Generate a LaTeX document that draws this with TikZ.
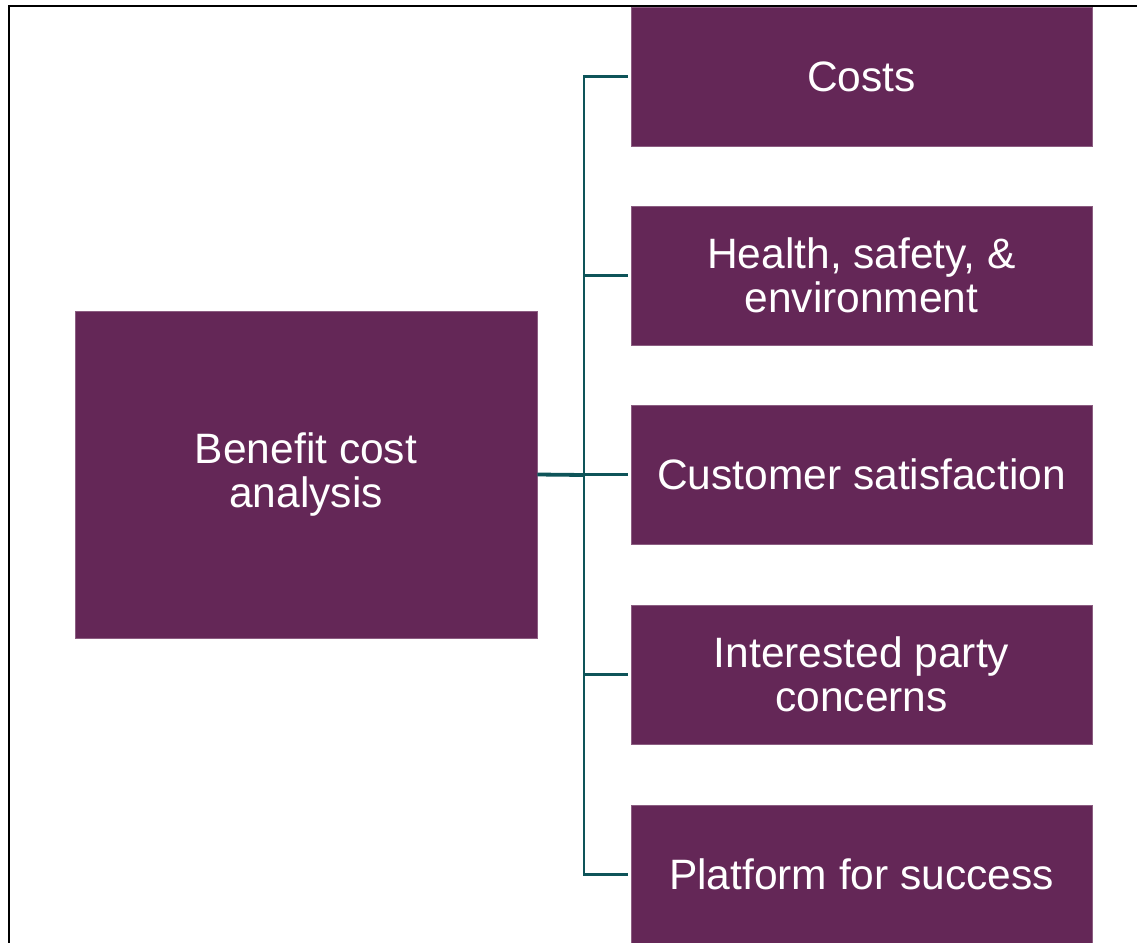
\documentclass[tikz,border=0pt]{standalone}
\usepackage{fontspec}
\setmainfont{Liberation Sans}
\definecolor{boxpurple}{HTML}{642757}
\definecolor{lineteal}{HTML}{0E5459}
\begin{document}
\begin{tikzpicture}[x=1pt,y=-1pt,
  box/.style={fill=boxpurple, draw=boxpurple!75!white, line width=0.6pt, text=white, align=center,
    font=\fontsize{42.5}{44}\selectfont, inner sep=0pt},
  leftbox/.style={box, minimum width=462pt, minimum height=327pt},
  rightbox/.style={box, minimum width=461pt, minimum height=139pt},
  conn/.style={draw=lineteal, line width=2.8pt},
  stub/.style={draw=lineteal, line width=3.8pt}]
\useasboundingbox (0,0) rectangle (1137,942);
\draw[black, line width=2.5pt] (9,943) -- (9,6) -- (1137,6);

\node[leftbox] (bca) at (306,474.5) {Benefit cost\\analysis};
\node[rightbox] (c1) at (861.5,76.5) {Costs};
\node[rightbox] (c2) at (861.5,275.5) {Health, safety, \&\\environment};
\node[rightbox] (c3) at (861.5,474.5) {Customer satisfaction};
\node[rightbox] (c4) at (861.5,674.5) {Interested party\\concerns};
\node[rightbox] (c5) at (861.5,874.5) {Platform for success};

\coordinate (j) at (584,475);
\draw[stub] (bca.east) -- (j);
\draw[conn] ([xshift=-3pt]c1.west) -- (c1.west -| j) -- (c5.west -| j) -- ([xshift=-3pt]c5.west);
\draw[conn] (c2.west -| j) -- ([xshift=-3pt]c2.west);
\draw[conn] (c3.west -| j) -- ([xshift=-3pt]c3.west);
\draw[conn] (c4.west -| j) -- ([xshift=-3pt]c4.west);
\end{tikzpicture}
\end{document}
